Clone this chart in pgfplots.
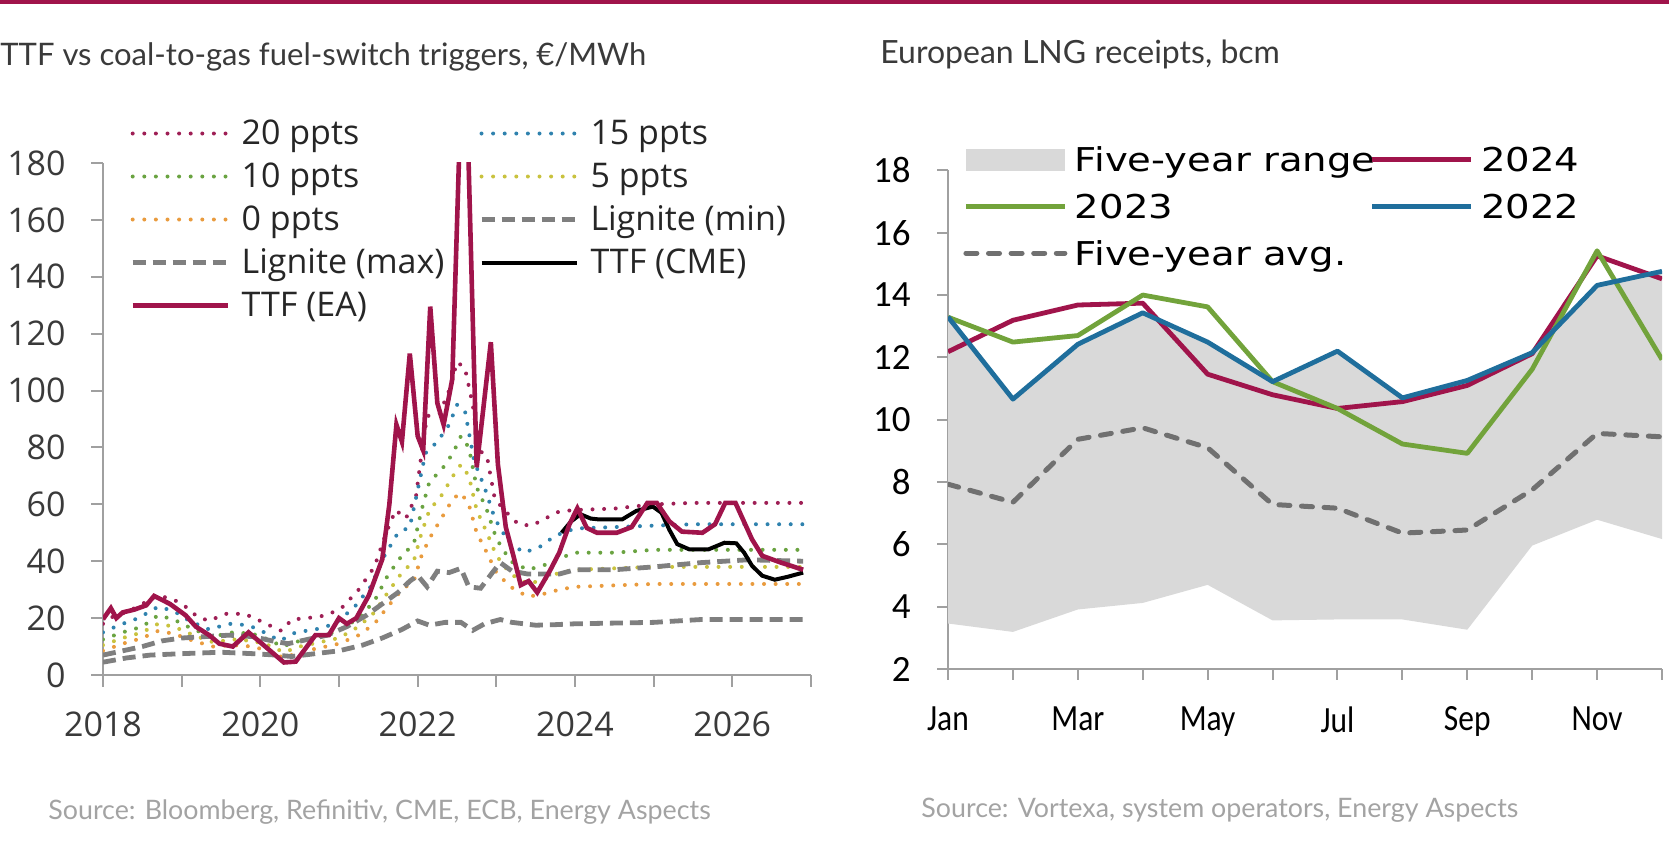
\documentclass[border=0pt]{standalone}
\usepackage{fontspec}
\usepackage{pgfplots}
\pgfplotsset{compat=1.18}
\setmainfont{Lato}
\newfontfamily\osans{Open Sans}
\newfontfamily\carl{Carlito}
\newfontfamily\dejavu{DejaVu Sans}
\definecolor{crim}{HTML}{A0144B}
\definecolor{c20}{HTML}{9E1F55}
\definecolor{c15}{HTML}{2F82AE}
\definecolor{c10}{HTML}{6AA341}
\definecolor{c5}{HTML}{C9C23E}
\definecolor{c0}{HTML}{E99B3E}
\definecolor{lig}{HTML}{7F7F7F}
\definecolor{axgray}{HTML}{A0A0A0}
\definecolor{titlegray}{HTML}{3A3A3A}
\definecolor{srcgray}{HTML}{A3A3A3}
\definecolor{g23}{HTML}{72A33B}
\definecolor{b22}{HTML}{1F6E9C}
\definecolor{avg}{HTML}{707070}
\definecolor{rng}{HTML}{D9D9D9}
\newcommand{\lle}[1]{\makebox[118.7pt][l]{\rule[-6pt]{0pt}{21.5pt}#1}}
\newcommand{\rle}[1]{\makebox[147.5pt][l]{\rule[-6.5pt]{0pt}{23.5pt}\scalebox{1}[0.85]{#1}}}
\newcommand{\sx}[1]{\scalebox{0.85}[1]{#1}}
\begin{document}
\begin{tikzpicture}
\useasboundingbox (0,0) rectangle (834.5pt,433pt);
\fill[crim] (0,431pt) rectangle (834.5pt,433pt);
\node[anchor=base west, inner sep=0pt, font=\fontsize{15.5}{18}\selectfont, text=titlegray] at (0,400pt) {TTF vs coal-to-gas fuel-switch triggers, €/MWh};
\node[anchor=base west, inner sep=0pt, font=\fontsize{16}{19}\selectfont, text=titlegray] at (440pt,401pt) {European LNG receipts, bcm};
\node[anchor=base west, inner sep=0pt, font=\fontsize{13.4}{16}\selectfont, text=srcgray] at (24pt,23pt) {Source: Bloomberg, Refinitiv, CME, ECB, Energy Aspects};
\node[anchor=base west, inner sep=0pt, font=\fontsize{13.4}{16}\selectfont, text=srcgray] at (460.5pt,24pt) {Source: Vortexa, system operators, Energy Aspects};

\begin{axis}[
  scale only axis, width=354pt, height=256pt,
  at={(51.5pt,95.5pt)}, anchor=south west,
  xmin=2018, xmax=2027, ymin=0, ymax=180,
  axis lines=left,
  axis line style={-, draw=axgray, line width=1pt},
  tick style={draw=axgray, line width=1pt},
  tick align=outside, major tick length=6pt,
  xtick={2018,...,2027},
  xticklabels={2018,,2020,,2022,,2024,,2026,},
  ytick={0,20,...,180},
  /pgf/number format/assume math mode=true,
  ticklabel style={font=\osans\fontsize{17}{20}\selectfont, text=titlegray, inner sep=0pt},
  yticklabel style={xshift=-12.5pt},
  xticklabel style={yshift=-12pt},
  legend columns=2, legend cell align=left,
  legend style={draw=none, fill=none, inner sep=0pt, nodes={inner sep=0pt, text depth=6pt},
    at={(0.038,1.098)}, anchor=north west,
    font=\osans\fontsize{17}{20}\selectfont, text=black!85},
  legend image code/.code={\draw[#1] (0pt,0.6pt) -- (47.5pt,0.6pt); \path[draw=none,fill=none] (0pt,0pt) -- (54.5pt,0pt);},
  dotted line/.style={line width=2pt, line cap=round, dash pattern=on 0pt off 5.8pt},
  lig line/.style={line width=2.4pt, dash pattern=on 6.5pt off 3.5pt, lig},
]
\addplot[c20, dotted line] coordinates {(2018.00,18) (2018.15,21) (2018.30,22) (2018.50,25) (2018.70,28) (2018.90,26.5) (2019.05,24) (2019.20,20.5) (2019.35,19) (2019.55,21.5) (2019.80,21.5) (2020.00,19) (2020.15,17) (2020.27,15.5) (2020.40,19.5) (2020.60,20) (2020.85,21) (2021.05,24) (2021.25,30) (2021.45,38) (2021.60,50) (2021.72,58) (2021.85,55) (2021.98,63) (2022.05,78) (2022.12,91) (2022.28,92) (2022.40,100) (2022.50,110) (2022.60,108) (2022.70,95) (2022.78,79) (2022.88,77) (2022.98,62) (2023.10,58) (2023.28,53) (2023.45,52.5) (2023.62,55) (2023.80,57.5) (2024.00,58) (2024.50,58.5) (2025.00,60) (2025.50,60.5) (2026.00,60.5) (2026.90,60.5)};
\addlegendentry{\lle{20 ppts}}
\addplot[c15, dotted line] coordinates {(2018.00,15) (2018.20,17.5) (2018.45,20) (2018.70,24) (2018.90,22.5) (2019.10,19) (2019.35,16) (2019.60,18) (2019.85,17.5) (2020.05,15) (2020.25,12) (2020.45,15) (2020.70,16) (2020.95,18) (2021.20,24) (2021.40,31) (2021.58,42) (2021.75,50) (2021.90,52) (2022.00,65) (2022.10,78) (2022.25,82) (2022.40,88) (2022.50,95) (2022.60,93) (2022.72,75) (2022.85,66) (2022.98,55) (2023.15,47) (2023.35,43) (2023.55,45) (2023.75,49) (2024.00,51.5) (2024.50,52) (2025.00,52.5) (2025.50,53) (2026.90,53)};
\addlegendentry{\lle{15 ppts}}
\addplot[c10, dotted line] coordinates {(2018.00,12.5) (2018.25,15) (2018.50,17) (2018.70,21) (2018.90,19.5) (2019.15,16) (2019.40,13.5) (2019.65,15) (2019.90,14.5) (2020.10,12.5) (2020.28,10) (2020.50,12) (2020.75,13.5) (2021.00,15.5) (2021.25,20) (2021.45,26) (2021.62,35) (2021.80,42) (2021.95,46) (2022.05,58) (2022.15,68) (2022.30,72) (2022.45,78) (2022.55,84) (2022.65,80) (2022.75,66) (2022.88,58) (2023.00,48) (2023.18,40) (2023.40,37) (2023.60,38.5) (2023.80,41) (2024.00,43) (2024.50,43) (2025.00,44) (2026.90,44)};
\addlegendentry{\lle{10 ppts}}
\addplot[c5, dotted line] coordinates {(2018.00,10.5) (2018.25,13) (2018.50,15) (2018.70,18) (2018.90,17) (2019.15,14) (2019.40,11.5) (2019.65,12.5) (2019.90,12) (2020.10,10.5) (2020.30,8) (2020.50,10) (2020.75,11.5) (2021.00,13) (2021.25,17) (2021.45,22) (2021.62,29) (2021.80,36) (2021.95,40) (2022.05,50) (2022.15,58) (2022.30,63) (2022.45,70) (2022.55,74) (2022.65,70) (2022.75,58) (2022.88,50) (2023.00,42) (2023.18,35.5) (2023.40,32) (2023.60,33.5) (2023.80,36) (2024.00,37) (2024.50,37.5) (2025.00,38) (2026.90,38)};
\addlegendentry{\lle{5 ppts}}
\addplot[c0, dotted line] coordinates {(2018.00,8.5) (2018.25,11) (2018.50,13) (2018.70,15.5) (2018.90,14.5) (2019.15,12) (2019.40,10) (2019.65,10.5) (2019.90,10) (2020.10,8.5) (2020.30,6) (2020.50,8) (2020.75,9.5) (2021.00,11) (2021.25,14) (2021.45,18) (2021.62,24) (2021.80,30) (2021.95,33) (2022.05,42) (2022.15,48) (2022.30,55) (2022.45,62) (2022.55,64) (2022.65,60) (2022.75,50) (2022.88,43) (2023.00,36) (2023.18,31) (2023.40,27.5) (2023.60,28.5) (2023.80,30) (2024.00,31) (2024.50,31.5) (2025.00,32) (2026.90,32)};
\addlegendentry{\lle{0 ppts}}
\addplot[lig line] coordinates {(2018.00,4.5) (2018.30,6) (2018.60,7) (2019.00,7.5) (2019.50,8) (2019.90,7.5) (2020.20,7) (2020.40,6.5) (2020.70,7.5) (2021.00,8.5) (2021.30,10.5) (2021.55,13) (2021.80,16) (2022.00,19) (2022.15,17.5) (2022.35,18.5) (2022.55,18.5) (2022.70,15.7) (2022.85,18) (2023.05,19.5) (2023.20,18.5) (2023.50,17.5) (2023.75,17.7) (2024.00,18) (2025.00,18.5) (2025.60,19.5) (2026.90,19.5)};
\addlegendentry{\lle{Lignite (min)}}
\addplot[lig line] coordinates {(2018.00,7) (2018.25,8.5) (2018.50,10) (2018.75,12) (2019.00,13) (2019.30,13.5) (2019.60,14) (2019.90,13.5) (2020.15,12) (2020.35,11) (2020.60,12.5) (2020.85,14) (2021.10,17) (2021.35,21) (2021.55,25) (2021.75,29) (2021.90,33) (2022.00,35) (2022.12,31) (2022.25,36.5) (2022.40,36) (2022.55,37.5) (2022.65,31) (2022.80,30.5) (2022.95,36) (2023.05,39.5) (2023.20,36.5) (2023.40,35.5) (2023.80,35.5) (2024.00,37) (2024.50,37) (2025.00,38) (2025.60,39.5) (2026.20,40.5) (2026.90,40)};
\addlegendentry{\lle{Lignite (max)}}
\addplot[black, line width=2pt] coordinates {(2023.83,50) (2023.95,54) (2024.07,56.5) (2024.20,55) (2024.30,54.7) (2024.60,54.7) (2024.78,57.7) (2024.99,59.2) (2025.10,57) (2025.20,51) (2025.30,46) (2025.45,44.2) (2025.70,44.2) (2025.90,46.5) (2026.05,46.3) (2026.15,43) (2026.25,38.4) (2026.38,34.9) (2026.54,33.5) (2026.70,34.5) (2026.90,36)};
\addlegendentry{\lle{TTF (CME)}}
\addplot[crim, line width=2.3pt] coordinates {(2018.00,19.6) (2018.10,23.5) (2018.17,20) (2018.25,22) (2018.40,23) (2018.55,24.5) (2018.65,27.8) (2018.85,25) (2019.05,21) (2019.18,17) (2019.35,14) (2019.48,11) (2019.65,10) (2019.85,15) (2020.05,10.3) (2020.30,4.4) (2020.45,4.7) (2020.70,14) (2020.87,14) (2021.00,20) (2021.10,18) (2021.22,20) (2021.38,28) (2021.55,40.7) (2021.64,60) (2021.73,88) (2021.80,82) (2021.90,113) (2022.00,84) (2022.07,79) (2022.16,129.5) (2022.25,95.6) (2022.33,88) (2022.44,104) (2022.59,240) (2022.75,73) (2022.93,117) (2023.02,74) (2023.12,52) (2023.22,41.6) (2023.31,31.6) (2023.41,33) (2023.52,29) (2023.68,36.6) (2023.80,43) (2023.93,53) (2024.03,58.6) (2024.15,51.7) (2024.28,50) (2024.53,50) (2024.72,52) (2024.92,60.5) (2025.04,60.5) (2025.20,54) (2025.36,50.4) (2025.62,50) (2025.78,53) (2025.91,60.5) (2026.04,60.5) (2026.25,47.7) (2026.38,41.9) (2026.62,39.5) (2026.90,37)};
\addlegendentry{\lle{TTF (EA)}}
\end{axis}

\begin{axis}[
  scale only axis, width=357pt, height=249.3pt,
  at={(474pt,98.5pt)}, anchor=south west,
  xmin=1, xmax=12, ymin=2, ymax=18,
  axis lines=left,
  axis line style={-, draw=axgray, line width=1pt},
  tick style={draw=axgray, line width=1pt},
  tick align=outside, major tick length=5.5pt,
  xtick={1,...,12},
  xticklabels={\sx{Jan},,\sx{Mar},,\sx{May},,\sx{Jul},,\sx{Sep},,\sx{Nov},},
  ytick={2,4,...,18},
  /pgf/number format/assume math mode=true,
  ticklabel style={font=\carl\fontsize{18.5}{22}\selectfont, text=black, inner sep=0pt},
  yticklabel style={xshift=-13pt},
  xticklabel style={yshift=-13pt},
  legend columns=2, legend cell align=left,
  legend style={draw=none, fill=none, inner sep=0pt, nodes={inner sep=0pt, text depth=6.5pt},
    at={(0.021,1.0676)}, anchor=north west,
    font=\dejavu\fontsize{19.3}{22}\selectfont, text=black},
  legend image code/.code={\draw[#1] (0pt,0.7pt) -- (49.5pt,0.7pt); \path[draw=none,fill=none] (0pt,0pt) -- (54.5pt,0pt);},
  yr line/.style={line width=2.4pt, line join=round},
]
\addplot[fill=rng, draw=none,
  legend image code/.code={\fill[rng] (0pt,-5pt) rectangle (49.5pt,6pt); \path[draw=none,fill=none] (0pt,0pt) -- (54.5pt,0pt);}]
  coordinates {(1,13.3) (2,10.66) (3,12.42) (4,13.43) (5,12.49) (6,11.22) (7,12.2) (8,10.7) (9,11.26) (10,12.15) (11,14.31) (12,14.76)
               (12,6.17) (11,6.79) (10,5.96) (9,3.26) (8,3.59) (7,3.59) (6,3.56) (5,4.7) (4,4.12) (3,3.91) (2,3.19) (1,3.46)};
\addlegendentry{\rle{Five-year range}}
\addplot[crim, yr line] coordinates {(1,12.18) (2,13.19) (3,13.68) (4,13.74) (5,11.46) (6,10.8) (7,10.36) (8,10.58) (9,11.1) (10,12.12) (11,15.26) (12,14.52)};
\addlegendentry{\rle{2024}}
\addplot[g23, yr line] coordinates {(1,13.29) (2,12.49) (3,12.7) (4,14.0) (5,13.62) (6,11.22) (7,10.36) (8,9.22) (9,8.92) (10,11.62) (11,15.42) (12,11.93)};
\addlegendentry{\rle{2023}}
\addplot[b22, yr line] coordinates {(1,13.3) (2,10.66) (3,12.42) (4,13.43) (5,12.49) (6,11.22) (7,12.2) (8,10.7) (9,11.26) (10,12.15) (11,14.31) (12,14.76)};
\addlegendentry{\rle{2022}}
\addplot[avg, line width=2.5pt, line cap=round, dash pattern=on 5.5pt off 5.8pt] coordinates {(1,7.93) (2,7.35) (3,9.37) (4,9.74) (5,9.1) (6,7.28) (7,7.16) (8,6.36) (9,6.46) (10,7.75) (11,9.56) (12,9.45)};
\addlegendentry{\rle{Five-year avg.}}
\end{axis}
\end{tikzpicture}
\end{document}
